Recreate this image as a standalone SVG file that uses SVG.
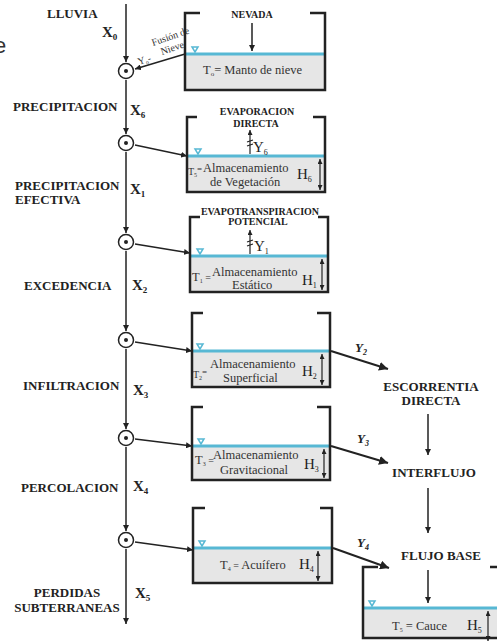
<svg xmlns="http://www.w3.org/2000/svg" width="497" height="642" viewBox="0 0 497 642">
<style>
.lbl{font-family:"Liberation Serif","Times New Roman",serif;font-weight:bold;font-size:13px;fill:#222}
.ttl{font-family:"Liberation Serif","Times New Roman",serif;font-weight:bold;font-size:10px;fill:#222}
.tx{font-family:"Liberation Serif","Times New Roman",serif;font-size:12.5px;fill:#333}
.sm{font-family:"Liberation Serif","Times New Roman",serif;font-size:10px;fill:#333}
.hh{font-family:"Liberation Serif","Times New Roman",serif;font-size:15px;fill:#222}
.xl{font-family:"Liberation Serif","Times New Roman",serif;font-weight:bold;font-size:15px;fill:#222}
.yl{font-family:"Liberation Serif","Times New Roman",serif;font-weight:bold;font-style:italic;font-size:13px;fill:#222}
.wall{fill:none;stroke:#222;stroke-width:2.5}
.gray{fill:#e6e6e6}
.water{stroke:#57b8d4;stroke-width:3}
.wl{fill:#fff;stroke:#57b8d4;stroke-width:1.5}
.con{stroke:#222;stroke-width:1.5;fill:none}
.conb{stroke:#222;stroke-width:2;fill:none}
.harr{stroke:#222;stroke-width:1.2;fill:none}
</style>
<defs>
<marker id="ah" viewBox="0 0 10 10" refX="10" refY="5" markerWidth="6" markerHeight="6" markerUnits="userSpaceOnUse" orient="auto"><path d="M0,0 L10,5 L0,10 z" fill="#222"/></marker>
<marker id="ahb" viewBox="0 0 10 10" refX="10" refY="5" markerWidth="9" markerHeight="9" markerUnits="userSpaceOnUse" orient="auto"><path d="M0,0 L10,5 L0,10 z" fill="#222"/></marker>
<marker id="ahs" viewBox="0 0 10 10" refX="10" refY="5" markerWidth="5" markerHeight="5" markerUnits="userSpaceOnUse" orient="auto-start-reverse"><path d="M0,0 L10,5 L0,10 z" fill="#222"/></marker>
<g id="wsym"><path class="wl" d="M-3,-7 L3,-7 L0,-2 z"/></g>
<g id="node"><circle r="7.5" fill="#fff" stroke="#222" stroke-width="1.5"/><circle r="2" fill="#222"/></g>
</defs>
<rect width="497" height="642" fill="#fff"/>

<text x="-6" y="53" font-family="Liberation Sans, Arial, sans-serif" font-size="22" fill="#333">e</text>

<g id="labels-left">
<text class="lbl" x="47" y="18" font-size="13.5">LLUVIA</text>
<text class="lbl" x="13" y="111">PRECIPITACION</text>
<text class="lbl" x="15" y="190">PRECIPITACION</text>
<text class="lbl" x="15" y="204">EFECTIVA</text>
<text class="lbl" x="24" y="290">EXCEDENCIA</text>
<text class="lbl" x="23" y="390">INFILTRACION</text>
<text class="lbl" x="21" y="492">PERCOLACION</text>
<text class="lbl" x="67" y="597" text-anchor="middle">PERDIDAS</text>
<text class="lbl" x="67" y="612" text-anchor="middle">SUBTERRANEAS</text>
<text class="xl" x="102" y="37">X<tspan font-size="9" dy="3">0</tspan></text>
<text class="xl" x="130" y="115">X<tspan font-size="9" dy="3">6</tspan></text>
<text class="xl" x="130" y="194">X<tspan font-size="9" dy="3">1</tspan></text>
<text class="xl" x="132" y="290">X<tspan font-size="9" dy="3">2</tspan></text>
<text class="xl" x="133" y="395">X<tspan font-size="9" dy="3">3</tspan></text>
<text class="xl" x="133" y="491">X<tspan font-size="9" dy="3">4</tspan></text>
<text class="xl" x="135" y="598">X<tspan font-size="9" dy="3">5</tspan></text>
</g>

<g id="connectors">
<line class="con" x1="126" y1="4" x2="126" y2="62" marker-end="url(#ah)"/>
<line class="con" x1="126" y1="80" x2="126" y2="134" marker-end="url(#ah)"/>
<line class="con" x1="126" y1="152" x2="126" y2="233" marker-end="url(#ah)"/>
<line class="con" x1="126" y1="251" x2="126" y2="331" marker-end="url(#ah)"/>
<line class="con" x1="126" y1="349" x2="126" y2="429" marker-end="url(#ah)"/>
<line class="con" x1="126" y1="447" x2="126" y2="531" marker-end="url(#ah)"/>
<line class="con" x1="126" y1="549" x2="126" y2="624" marker-end="url(#ah)"/>
<line class="con" x1="185" y1="54" x2="135" y2="69" marker-end="url(#ah)"/>
<line class="con" x1="135" y1="145" x2="187" y2="156" marker-end="url(#ah)"/>
<line class="con" x1="135" y1="244" x2="190" y2="253" marker-end="url(#ah)"/>
<line class="con" x1="135" y1="342" x2="192" y2="351" marker-end="url(#ah)"/>
<line class="con" x1="135" y1="439" x2="192" y2="446" marker-end="url(#ah)"/>
<line class="con" x1="135" y1="542" x2="193" y2="550" marker-end="url(#ah)"/>
<line class="conb" x1="331" y1="351" x2="388" y2="369" marker-end="url(#ahb)"/>
<line class="conb" x1="331" y1="446" x2="388" y2="463" marker-end="url(#ahb)"/>
<line class="conb" x1="333" y1="548" x2="389" y2="568" marker-end="url(#ahb)"/>
<line class="con" x1="428" y1="414" x2="428" y2="455" marker-end="url(#ah)"/>
<line class="con" x1="428" y1="488" x2="428" y2="533" marker-end="url(#ah)"/>
<line class="con" x1="428" y1="570" x2="428" y2="603" marker-end="url(#ah)"/>
<line class="con" x1="252" y1="23" x2="252" y2="51" marker-end="url(#ah)"/>
</g>

<g id="node-c1"><use href="#node" x="126" y="71"/></g>
<g id="node-c2"><use href="#node" x="126" y="143"/></g>
<g id="node-c3"><use href="#node" x="126" y="242"/></g>
<g id="node-c4"><use href="#node" x="126" y="340"/></g>
<g id="node-c5"><use href="#node" x="126" y="438"/></g>
<g id="node-c6"><use href="#node" x="126" y="540"/></g>

<g id="fusion">
<text class="sm" font-size="9" transform="translate(139,65) rotate(-19)">Y<tspan font-size="6" dy="2">o</tspan><tspan dy="-2" font-size="9">-</tspan></text>
<text class="sm" font-size="7" transform="translate(153,46) rotate(-19)">Fusión de</text>
<text class="sm" font-size="7" transform="translate(162,55) rotate(-19)">Nieve</text>
</g>

<g id="tank-nevada">
<rect class="gray" x="185" y="54" width="140" height="36"/>
<line class="water" x1="185" y1="54" x2="325" y2="54"/>
<path class="wall" d="M200,13 H185 V90 H325 V13 H310"/>
<use href="#wsym" x="195" y="54"/>
<text class="ttl" x="252" y="18" text-anchor="middle" font-size="10.5">NEVADA</text>
<text class="tx" x="203" y="74">T<tspan font-size="7" dy="2">o</tspan><tspan dy="-2">= Manto de nieve</tspan></text>
</g>

<g id="tank-vegetacion">
<rect class="gray" x="187" y="156" width="138" height="36"/>
<line class="water" x1="187" y1="156" x2="325" y2="156"/>
<path class="wall" d="M197,117 H187 V192 H325 V117 H313"/>
<use href="#wsym" x="198" y="156"/>
<text class="ttl" x="257" y="115" text-anchor="middle">EVAPORACION</text>
<text class="ttl" x="256" y="127" text-anchor="middle">DIRECTA</text>
<line class="harr" x1="250" y1="154" x2="250" y2="130" marker-end="url(#ahs)"/>
<path class="harr" d="M247,142 l6,-2 M247,146 l6,-2"/>
<text class="hh" x="253" y="152" font-size="14">Y<tspan font-size="8" dy="3">6</tspan></text>
<text class="sm" x="188" y="175">T<tspan font-size="6" dy="2">5</tspan><tspan dy="-5" font-size="9">=</tspan></text>
<text class="tx" x="203" y="172">Almacenamiento</text>
<text class="tx" x="210" y="186">de Vegetación</text>
<text class="hh" x="297" y="179">H<tspan font-size="8" dy="3">6</tspan></text>
<line class="harr" x1="320" y1="159" x2="320" y2="190" marker-start="url(#ahs)" marker-end="url(#ahs)"/>
</g>

<g id="tank-estatico">
<rect class="gray" x="190" y="256" width="138" height="36"/>
<line class="water" x1="190" y1="256" x2="328" y2="256"/>
<path class="wall" d="M200,217 H190 V292 H328 V217 H318"/>
<use href="#wsym" x="200" y="256"/>
<text class="ttl" x="260" y="215" text-anchor="middle">EVAPOTRANSPIRACION</text>
<text class="ttl" x="258" y="225" text-anchor="middle">POTENCIAL</text>
<line class="harr" x1="250" y1="254" x2="250" y2="230" marker-end="url(#ahs)"/>
<path class="harr" d="M247,242 l6,-2 M247,246 l6,-2"/>
<text class="hh" x="254" y="251" font-size="14">Y<tspan font-size="8" dy="3">1</tspan></text>
<text class="tx" x="192" y="281" font-size="12">T<tspan font-size="6" dy="2">1</tspan><tspan dy="-2" font-size="10"> =</tspan></text>
<text class="tx" x="212" y="276">Almacenamiento</text>
<text class="tx" x="232" y="289">Estático</text>
<text class="hh" x="302" y="285">H<tspan font-size="8" dy="3">1</tspan></text>
<line class="harr" x1="322" y1="259" x2="322" y2="290" marker-start="url(#ahs)" marker-end="url(#ahs)"/>
</g>

<g id="tank-superficial">
<rect class="gray" x="192" y="351" width="138" height="36"/>
<line class="water" x1="192" y1="351" x2="330" y2="351"/>
<path class="wall" d="M203,313 H192 V387 H330 V313 H317"/>
<use href="#wsym" x="200" y="351"/>
<text class="sm" x="193" y="378">T<tspan font-size="6" dy="2">2</tspan><tspan dy="-5" font-size="9">=</tspan></text>
<text class="tx" x="210" y="368">Almacenamiento</text>
<text class="tx" x="223" y="382">Superficial</text>
<text class="hh" x="302" y="376">H<tspan font-size="8" dy="3">2</tspan></text>
<line class="harr" x1="322" y1="354" x2="322" y2="385" marker-start="url(#ahs)" marker-end="url(#ahs)"/>
</g>

<g id="tank-gravitacional">
<rect class="gray" x="192" y="446" width="138" height="34"/>
<line class="water" x1="192" y1="446" x2="330" y2="446"/>
<path class="wall" d="M203,407 H192 V480 H330 V407 H317"/>
<use href="#wsym" x="201" y="446"/>
<text class="tx" x="195" y="464" font-size="12">T<tspan font-size="6" dy="2">3</tspan><tspan dy="-2" font-size="10"> =</tspan></text>
<text class="tx" x="213" y="459">Almacenamiento</text>
<text class="tx" x="220" y="474">Gravitacional</text>
<text class="hh" x="304" y="469">H<tspan font-size="8" dy="3">3</tspan></text>
<line class="harr" x1="324" y1="449" x2="324" y2="478" marker-start="url(#ahs)" marker-end="url(#ahs)"/>
</g>

<g id="tank-acuifero">
<rect class="gray" x="193" y="548" width="139" height="35"/>
<line class="water" x1="193" y1="548" x2="332" y2="548"/>
<path class="wall" d="M205,508 H193 V583 H332 V508 H320"/>
<use href="#wsym" x="202" y="548"/>
<text class="tx" x="220" y="569">T<tspan font-size="6" dy="2">4</tspan><tspan dy="-2" font-size="10"> = </tspan>Acuífero</text>
<text class="hh" x="299" y="569">H<tspan font-size="8" dy="3">4</tspan></text>
<line class="harr" x1="318" y1="551" x2="318" y2="581" marker-start="url(#ahs)" marker-end="url(#ahs)"/>
</g>

<g id="tank-cauce">
<rect class="gray" x="363" y="608" width="145" height="30"/>
<line class="water" x1="363" y1="608" x2="508" y2="608"/>
<path class="wall" d="M378,567 H363 V638 H505 V567 H490"/>
<use href="#wsym" x="372" y="608"/>
<text class="tx" x="392" y="630">T<tspan font-size="6" dy="2">5</tspan><tspan dy="-2"> = Cauce</tspan></text>
<text class="hh" x="467" y="630">H<tspan font-size="8" dy="3">5</tspan></text>
<line class="harr" x1="488" y1="611" x2="488" y2="641" marker-start="url(#ahs)" marker-end="url(#ahs)"/>
</g>

<g id="labels-right">
<text class="yl" x="355" y="352">Y<tspan font-size="8" dy="3">2</tspan></text>
<text class="yl" x="357" y="443">Y<tspan font-size="8" dy="3">3</tspan></text>
<text class="yl" x="357" y="547">Y<tspan font-size="8" dy="3">4</tspan></text>
<text class="lbl" x="431" y="391" text-anchor="middle">ESCORRENTIA</text>
<text class="lbl" x="431" y="405" text-anchor="middle">DIRECTA</text>
<text class="lbl" x="434" y="477" text-anchor="middle">INTERFLUJO</text>
<text class="lbl" x="441" y="560" text-anchor="middle">FLUJO BASE</text>
</g>
</svg>
